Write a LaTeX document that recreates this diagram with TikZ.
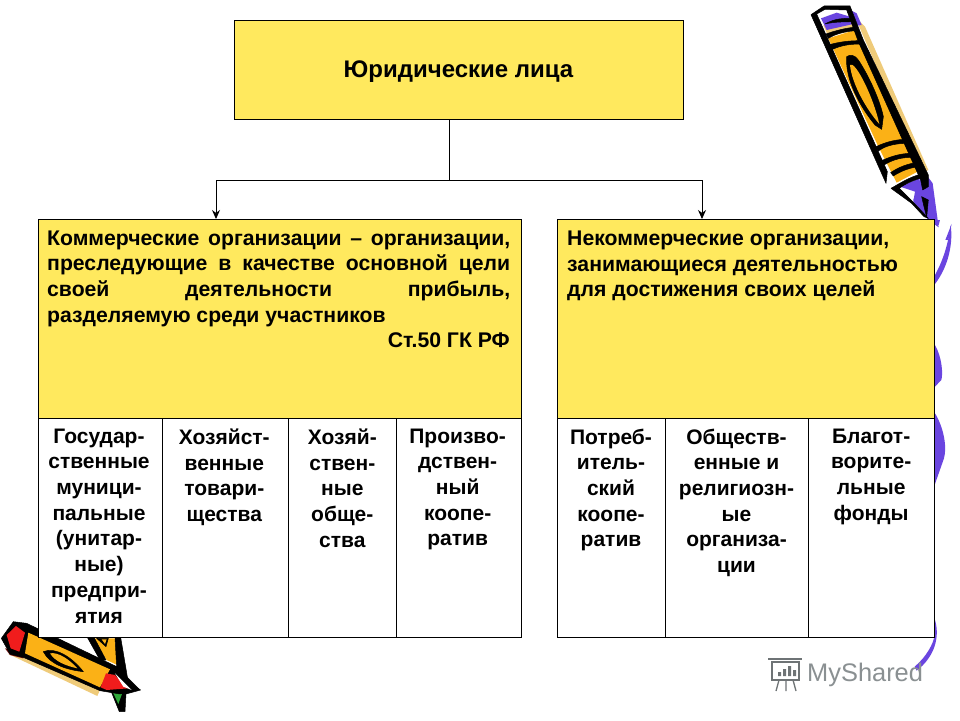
\documentclass[tikz,border=0pt]{standalone}
\usepackage{fontspec}
\setmainfont{Liberation Sans}
\usetikzlibrary{arrows.meta}
\definecolor{boxyellow}{HTML}{FFE95E}
\definecolor{penorange}{HTML}{FBB116}
\definecolor{penpurple}{HTML}{6A45E0}
\definecolor{pentan}{HTML}{EFCB7A}
\definecolor{penred}{HTML}{F01C1C}
\definecolor{pengreen}{HTML}{2FA83A}
\definecolor{markgray}{HTML}{8A9092}
\tikzset{
  ybox/.style={draw=black,line width=1pt,fill=boxyellow,inner sep=0pt,outer sep=0pt,anchor=north west},
  cellbox/.style={draw=black,line width=1pt,fill=white,inner sep=0pt,outer sep=0pt,anchor=north west,minimum height=219pt},
  bodytext/.style={font=\bfseries\fontsize{21.2}{25.6}\selectfont,inner sep=0pt},
  celltext/.style={font=\bfseries\fontsize{21}{25.7}\selectfont,inner sep=0pt,align=center,anchor=north},
  link/.style={draw=black,line width=0.9pt},
  ink/.style={fill=black,draw=black,line width=0.5pt,line join=round},
  pen/.style={shift={(#1)},x=0.3333pt,y=-0.3333pt}
}
\begin{document}
\begin{tikzpicture}[x=1pt,y=-1pt]
\useasboundingbox (0,0) rectangle (960,720);
\fill[white] (0,0) rectangle (960,720);

% right purple squiggles
\begin{scope}[pen={740,220}]
\fill[penpurple] (585,0) -- (600,0) -- (596,16) -- cycle;
\fill[penpurple] (632,15) .. controls (640,70) and (625,140) .. (585,192) -- (585,165) .. controls (610,120) and (625,70) .. cycle;
\fill[penpurple] (585,375) .. controls (605,410) and (610,460) .. (604,480) -- (585,500) -- cycle;
\fill[penpurple] (585,580) .. controls (610,620) and (622,680) .. (612,715) -- (585,792) -- cycle;
\fill[penpurple] (585,1200) .. controls (600,1250) and (585,1310) .. (530,1352) -- (524,1340) .. controls (560,1310) and (580,1270) .. (583,1250) -- cycle;
\end{scope}

% upper pencil
\begin{scope}[pen={800,0}]
\fill[penpurple] (455,672) -- (445,720) -- (436,720) -- cycle;
\fill[pentan] (165,50) -- (195,80) -- (385,510) -- (365,520) -- cycle;
\fill[penpurple] (150,30) -- (170,40) -- (185,75) -- (165,78) -- cycle;
\fill[penpurple] (370,512) -- (398,550) -- (416,682) -- (385,660) -- (340,600) -- cycle;
\fill[white] (40,45) -- (150,25) -- (375,530) -- (262,550) -- cycle;
\fill[penorange] (85,115) -- (165,90) -- (372,505) -- (290,548) -- (235,440) -- cycle;
\fill[pentan] (70,75) -- (155,65) -- (165,90) -- (85,110) -- cycle;
\fill[penpurple] (63,55) -- (110,38) -- (150,50) -- (160,72) -- (80,90) -- cycle;
% black outlines
\fill[ink] (33,44) -- (72,18) -- (150,18) -- (190,120) -- (385,525) -- (385,560) -- (368,570) -- (362,540) -- (175,125) -- (140,30) -- (75,28) -- (50,42) -- (262,515) -- (258,550) -- cycle;
\fill[ink] (75,72) .. controls (105,55) and (130,55) .. (155,55) -- (158,65) .. controls (130,66) and (105,65) .. cycle;
\fill[ink] (78,102) .. controls (105,92) and (135,85) .. (160,82) -- (165,92) .. controls (135,95) and (110,100) .. (85,115) -- cycle;
\fill[ink] (85,135) .. controls (120,125) and (150,122) .. (182,122) -- (187,132) .. controls (150,132) and (125,135) .. (93,150) -- cycle;
\fill[ink] (228,440) .. controls (260,425) and (290,418) .. (320,418) -- (326,430) .. controls (290,430) and (260,435) .. (235,453) -- cycle;
\fill[ink] (245,482) .. controls (275,468) and (305,460) .. (335,460) -- (340,472) .. controls (305,472) and (280,478) .. (252,495) -- cycle;
\fill[ink] (272,518) .. controls (295,502) and (325,490) .. (352,488) -- (358,500) .. controls (330,503) and (305,512) .. (280,528) -- cycle;
\fill[penpurple] (300,560) -- (358,535) -- (368,590) -- (375,645) -- (340,605) -- (345,575) -- cycle;
\fill[ink] (273,565) .. controls (300,550) and (330,530) .. (365,522) -- (372,532) .. controls (340,540) and (315,552) .. (298,565) -- (345,612) -- (385,655) -- (372,650) -- (335,610) -- cycle;
\fill[ink] (365,590) -- (385,600) -- (380,652) -- (372,620) -- cycle;
\fill[ink] (140,170) .. controls (150,162) and (165,165) .. (175,180) .. controls (205,225) and (240,300) .. (250,350) -- (245,388) -- (225,375) .. controls (180,320) and (135,240) .. cycle;
\fill[penorange] (150,195) .. controls (165,180) and (220,290) .. (238,372) .. controls (200,330) and (155,250) .. cycle;
\end{scope}

% lower pencil
\begin{scope}[pen={0,610}]
\fill[penorange] (275,85) -- (345,85) -- (352,165) -- (320,150) -- cycle;
\fill[ink] (262,82) -- (282,82) -- (318,150) -- (300,150) -- cycle;
\fill[ink] (345,82) -- (362,82) -- (385,218) -- (422,240) -- (378,252) -- (375,305) -- (358,305) -- (335,248) -- (350,170) -- cycle;
\fill[ink] (290,85) -- (325,85) -- (318,110) -- cycle;
\fill[penorange] (305,88) -- (320,88) -- (315,102) -- cycle;
\fill[pengreen] (338,245) -- (366,252) -- (355,282) -- cycle;
\fill[pentan] (25,132) -- (75,142) -- (300,240) -- (292,258) -- cycle;
\fill[black!55!penred] (15,115) -- (30,135) -- (70,145) -- (60,125) -- cycle;
\fill[ink] (4,85) -- (40,35) -- (80,40) -- (350,170) -- (418,238) -- (360,252) -- (300,242) -- (70,142) -- (30,132) -- cycle;
\fill[penorange] (85,68) -- (330,178) -- (300,232) -- (75,130) -- cycle;
\fill[penred] (20,75) -- (48,48) -- (75,68) -- (58,125) -- (32,115) -- cycle;
\fill[penred] (318,190) -- (345,195) -- (385,235) -- (320,240) -- (302,232) -- cycle;
\fill[white] (345,190) -- (395,240) -- (370,230) -- cycle;
\fill[ink] (130,125) .. controls (165,110) and (215,140) .. (250,185) .. controls (205,180) and (150,165) .. cycle;
\fill[penorange] (150,130) .. controls (175,125) and (210,150) .. (232,175) .. controls (200,168) and (165,155) .. cycle;
\end{scope}

% boxes
\node[ybox,minimum width=449.3pt,minimum height=99.5pt] (top) at (234,20) {};
\node[font=\bfseries\fontsize{24}{28}\selectfont,inner sep=0pt] (toptext) at (458.5,72) {Юридические лица};

\node[ybox,minimum width=483.3pt,minimum height=199pt] (comm) at (38,219) {};
\node[ybox,minimum width=377.3pt,minimum height=199pt] (noncomm) at (557,219) {};

\node[cellbox,minimum width=124pt] (c1) at (38,418) {};
\node[cellbox,minimum width=126.6pt] (c2) at (162,418) {};
\node[cellbox,minimum width=107.4pt] (c3) at (288.6,418) {};
\node[cellbox,minimum width=125.3pt] (c4) at (396,418) {};
\node[cellbox,minimum width=108pt] (c5) at (557,418) {};
\node[cellbox,minimum width=143pt] (c6) at (665,418) {};
\node[cellbox,minimum width=126.3pt] (c7) at (808,418) {};

% connectors
\coordinate (drop) at (449,180);
\coordinate (busL) at (216,180);
\coordinate (busR) at (702,180);
\draw[link] (top.south -| drop) -- (drop);
\draw[link] (busL) -- (busR);
\draw[link,-{Stealth[length=9pt,width=8pt]}] (busL) -- (comm.north -| busL);
\draw[link,-{Stealth[length=9pt,width=8pt]}] (busR) -- (noncomm.north -| busR);

% texts
\node[bodytext,text width=463pt,align=justify,anchor=north west] (commtext) at (47,230.5) {Коммерческие организации -- организации,\linebreak
преследующие в качестве основной цели\linebreak
своей деятельности прибыль,\linebreak
разделяемую среди участников};
\node[bodytext,anchor=north east] (art) at (510,332.5) {Ст.50 ГК РФ};
\node[bodytext,align=left,anchor=north west] (noncommtext) at (567,231) {Некоммерческие организации,\\занимающиеся деятельностью\\для достижения своих целей};

\node[celltext] (t1) at ([xshift=-1pt,yshift=-10.5pt]c1.north) {Государ-\\ственные\\муници-\\пальные\\(унитар-\\ные)\\предпри-\\ятия};
\node[celltext] (t2) at ([xshift=-1pt,yshift=-10.5pt]c2.north) {Хозяйст-\\венные\\товари-\\щества};
\node[celltext] (t3) at ([yshift=-10.5pt]c3.north) {Хозяй-\\ствен-\\ные\\обще-\\ства};
\node[celltext] (t4) at ([xshift=-1pt,yshift=-10.5pt]c4.north) {Произво-\\дствен-\\ный\\коопе-\\ратив};
\node[celltext] (t5) at ([yshift=-10.5pt]c5.north) {Потреб-\\итель-\\ский\\коопе-\\ратив};
\node[celltext] (t6) at ([yshift=-10.5pt]c6.north) {Обществ-\\енные и\\религиозн-\\ые\\организа-\\ции};
\node[celltext] (t7) at ([yshift=-10.5pt]c7.north) {Благот-\\ворите-\\льные\\фонды};

% watermark
\node[font=\fontsize{25.4}{30}\selectfont,text=markgray,inner sep=0pt,anchor=west] (mark) at (807,675) {MyShared};
\begin{scope}[draw=markgray!80!black,line width=1.3pt]
\draw (772,662) rectangle (799,680);
\draw (768,659) -- (802,659);
\draw (779,680) -- (776,691) (786,680) -- (786,691) (793,680) -- (796,691);
\fill[markgray!80!black] (778,672) rectangle (781,676) (783,669) rectangle (786,676) (788,666) rectangle (791,676) (793,670) rectangle (796,676);
\end{scope}
\end{tikzpicture}
\end{document}
